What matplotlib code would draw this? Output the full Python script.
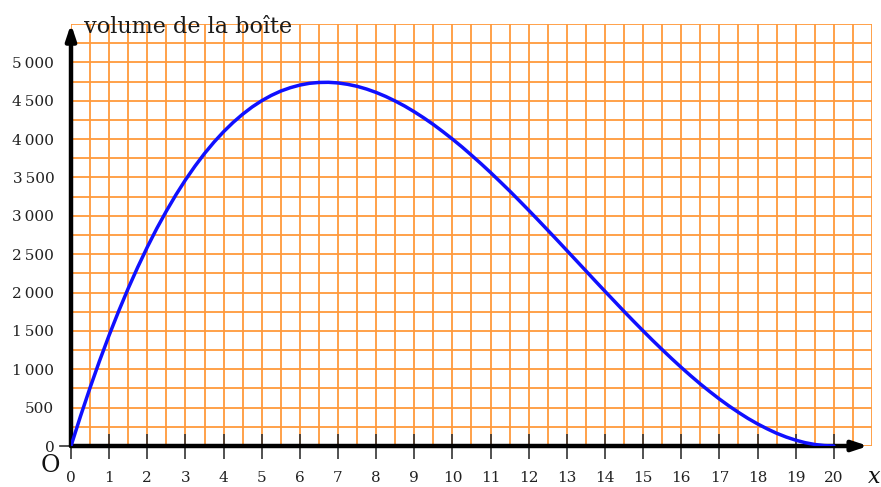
import matplotlib
matplotlib.use("Agg")
import matplotlib.pyplot as plt

# data (volume of the box vs x)
x_vals = [0, 0.25, 0.5, 0.75, 1, 1.25, 1.5, 1.75, 2, 2.25, 2.5, 2.75, 3, 3.25, 3.5, 3.75,
          4, 4.25, 4.5, 4.75, 5, 5.25, 5.5, 5.75, 6, 6.25, 6.5, 6.75, 7, 7.25, 7.5, 7.75,
          8, 8.25, 8.5, 8.75, 9, 9.25, 9.5, 9.75, 10, 10.25, 10.5, 10.75, 11, 11.25, 11.5,
          11.75, 12, 12.25, 12.5, 12.75, 13, 13.25, 13.5, 13.75, 14, 14.25, 14.5, 14.75,
          15, 15.25, 15.5, 15.75, 16, 16.25, 16.5, 16.75, 17, 17.25, 17.5, 17.75, 18,
          18.25, 18.5, 18.75, 19, 19.25, 19.5, 19.75, 20]
volume = [0, 390, 760, 1112, 1444, 1758, 2054, 2331, 2592, 2836, 3062, 3273, 3468, 3647,
          3812, 3961, 4096, 4217, 4324, 4419, 4500, 4569, 4626, 4670, 4704, 4727, 4738,
          4740, 4732, 4714, 4688, 4652, 4608, 4556, 4496, 4430, 4356, 4276, 4190, 4097,
          4000, 3898, 3790, 3679, 3564, 3445, 3324, 3199, 3072, 2943, 2812, 2681, 2548,
          2415, 2282, 2148, 2016, 1885, 1754, 1626, 1500, 1376, 1256, 1138, 1024, 914,
          808, 708, 612, 522, 438, 359, 288, 224, 166, 117, 76, 43, 20, 5, 0]
x_ticks = list(range(0, 21))
y_ticks = [0, 500, 1000, 1500, 2000, 2500, 3000, 3500, 4000, 4500, 5000]
y_tick_labels = ["0", "500", "1\u2009000", "1\u2009500", "2\u2009000", "2\u2009500",
                 "3\u2009000", "3\u2009500", "4\u2009000", "4\u2009500", "5\u2009000"]
grid_x = [i * 0.5 for i in range(0, 43)]
grid_y = [i * 250 for i in range(0, 23)]

plt.rcParams['font.family'] = ['DejaVu Serif']

W, H = 881, 487
fig = plt.figure(figsize=(W / 100, H / 100), dpi=100)
ax = fig.add_axes([71 / W, 41 / H, (872 - 71) / W, (446 - 24) / H])
ax.set_xlim(0, 21)
ax.set_ylim(0, 5500)
for s in ax.spines.values():
    s.set_visible(False)

grid_col = '#ff9a3c'
for gx in grid_x:
    ax.axvline(gx, color=grid_col, lw=1.3, zorder=1)
for gy in grid_y:
    ax.axhline(gy, color=grid_col, lw=1.3, zorder=1)

# axes arrows
ax.annotate('', xy=(20.9, 0), xytext=(0, 0),
            arrowprops=dict(arrowstyle='-|>,head_length=0.9,head_width=0.3', lw=3.2, color='black',
                            shrinkA=0, shrinkB=0), zorder=5, annotation_clip=False)
ax.annotate('', xy=(0, 5500), xytext=(0, 0),
            arrowprops=dict(arrowstyle='-|>,head_length=0.9,head_width=0.3', lw=3.2, color='black',
                            shrinkA=0, shrinkB=0), zorder=5, annotation_clip=False)

ax.plot(x_vals, volume, color='#1010ff', lw=2.5, zorder=6, solid_capstyle='round',
        solid_joinstyle='round')

ax.set_xticks(x_ticks)
ax.set_xticklabels([str(t) for t in x_ticks], fontsize=11, color='#222')
ax.tick_params(axis='x', direction='inout', length=18, width=1.2, color='#333', pad=9)
ax.set_yticks(y_ticks)
ax.set_yticklabels(y_tick_labels, fontsize=11, color='#222')
ax.tick_params(axis='y', length=0, pad=12)
ax.plot([-0.28, 0], [0, 0], color='#333', lw=1.2, clip_on=False, zorder=4)

ax.text(0.35, 5385, 'volume de la boîte', fontsize=16, color='#1a1a1a',
        ha='left', va='baseline', zorder=7)
ax.text(-0.28, -100, 'O', fontsize=17, color='#111', ha='right', va='top')
ax.text(21.05, -260, 'x', fontsize=16, style='italic', color='#111', ha='center', va='top')

fig.savefig('out.png', dpi=100)
